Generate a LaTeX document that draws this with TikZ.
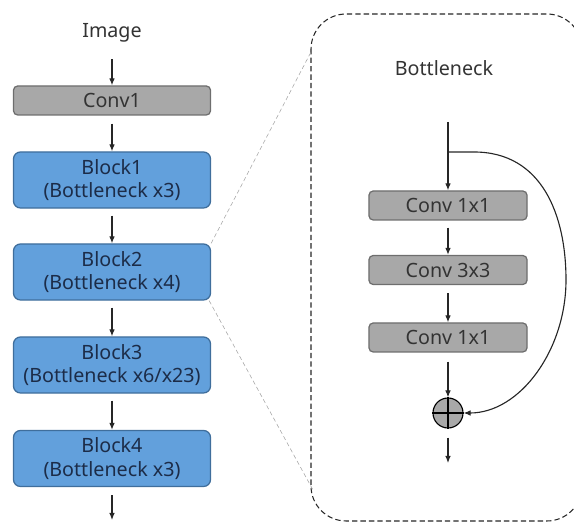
\documentclass[tikz,border=0pt]{standalone}
\usepackage{fontspec}
\setmainfont{Noto Sans}
\usepackage{xcolor}
\usetikzlibrary{arrows.meta, calc}
\definecolor{blockfill}{HTML}{62A0DC}
\definecolor{blockline}{HTML}{3F6E9C}
\definecolor{blocktext}{HTML}{1C2C48}
\definecolor{convfill}{HTML}{A8A8A8}
\definecolor{convline}{HTML}{6E6E6E}
\definecolor{labeltext}{HTML}{333333}

\begin{document}
\begin{tikzpicture}[x=0.025cm, y=-0.025cm,
    >={Latex[length=5pt,width=4pt]},
    arr/.style={->, line width=0.8pt, black!85},
    convbox/.style={draw=convline, fill=convfill, line width=0.9pt, rounded corners=3pt,
      minimum height=0.725cm, inner sep=0pt, text=black!80},
    blockbox/.style={draw=blockline, fill=blockfill, line width=0.9pt, rounded corners=5pt,
      minimum width=4.925cm, minimum height=1.4cm, inner sep=0pt, align=center,
      text=blocktext, font=\fontsize{14}{16.5}\selectfont},
    zoomline/.style={densely dashed, gray!70, line width=0.4pt},
    every node/.style={font=\fontsize{14}{16.5}\selectfont}
  ]
  \useasboundingbox (0,0) rectangle (574,523);

  % backbone
  \node[text=labeltext] (img) at (112,33) {Image};
  \node[convbox, minimum width=4.925cm] (conv1) at (112,100.5) {Conv1};
  \node[blockbox] (b1) at (112,180) {Block1\\(Bottleneck x3)};
  \node[blockbox] (b2) at (112,272) {Block2\\(Bottleneck x4)};
  \node[blockbox] (b3) at (112,365) {Block3\\(Bottleneck x6/x23)};
  \node[blockbox] (b4) at (112,458.5) {Block4\\(Bottleneck x3)};
  \coordinate (out) at (112,520);

  \draw[arr] ($(img.south)+(0,12)$) -- (conv1);
  \draw[arr] ($(conv1.south)+(0,8)$) -- (b1);
  \draw[arr] ($(b1.south)+(0,7)$) -- (b2);
  \draw[arr] ($(b2.south)+(0,7)$) -- (b3);
  \draw[arr] ($(b3.south)+(0,7)$) -- (b4);
  \draw[arr] ($(b4.south)+(0,8)$) -- (out);

  % bottleneck detail
  \begin{scope}
    \clip (0,0) rectangle (574,523);
    \draw[gray!30!black, line width=0.75pt, dash pattern=on 3.8pt off 2.2pt, rounded corners=25pt]
      (311,14) rectangle (582,521);
  \end{scope}
  \coordinate (boxtl) at (311,52);
  \coordinate (boxbl) at (313,490);
  \draw[zoomline] (b2.north east) -- (boxtl);
  \draw[zoomline] ($(b2.south east)+(-2,0)$) -- (boxbl);

  \node[text=labeltext] (title) at (444,68) {Bottleneck};
  \coordinate (in) at (448,122);
  \coordinate (split) at (448,152);
  \node[convbox, minimum width=3.95cm] (ca) at (448,205.5) {Conv 1x1};
  \node[convbox, minimum width=3.95cm] (cb) at (448,270) {Conv 3x3};
  \node[convbox, minimum width=3.95cm] (cc) at (448,337.5) {Conv 1x1};
  \node[circle, draw=black, fill=convfill, line width=0.8pt, minimum size=0.75cm, inner sep=0pt] (add) at (448,413) {};
  \draw[line width=0.8pt] (add.north) -- (add.south) (add.west) -- (add.east);
  \coordinate (end) at (448,463);

  \draw[arr] (in) -- (ca);
  \draw[arr] ($(ca.south)+(0,7)$) -- (cb);
  \draw[arr] ($(cb.south)+(0,8)$) -- (cc);
  \draw[arr] ($(cc.south)+(0,9)$) -- (add);
  \draw[arr] ($(add.south)+(0,9)$) -- (end);
  \draw[arr] (split) -- (474,152) .. controls (542,152) and (566,215) .. (566,280)
    .. controls (566,350) and (520,413) .. (add.east);
\end{tikzpicture}
\end{document}
